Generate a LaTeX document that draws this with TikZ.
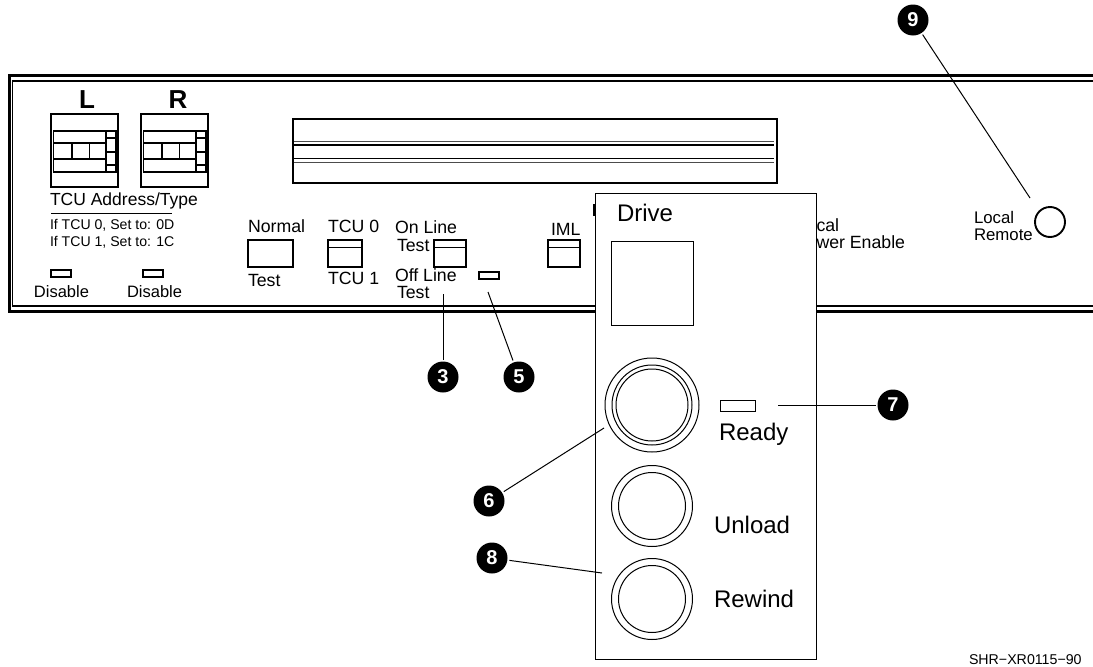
\documentclass[tikz,border=0pt]{standalone}
\usepackage{fontspec}
\setmainfont{Liberation Sans}
\newcommand{\fsz}[1]{\fontsize{#1}{#1}\selectfont}
\tikzset{
  lab/.style={anchor=base west,inner sep=0pt,outer sep=0pt,text=black},
  sa/.style={lab,font=\fsz{17.7}},
  sb/.style={lab,font=\fsz{14.1}},
  sc/.style={lab,font=\fsz{16.5}},
  sd/.style={lab,font=\fsz{24}},
  se/.style={lab,font=\fsz{16.8}},
  big/.style={anchor=base,inner sep=0pt,font=\fsz{26}\bfseries},
  sw/.style={draw=black,line width=1.6pt},
  btn/.style={draw=black,line width=1.4pt},
  thin/.style={draw=black,line width=0.9pt},
  callout/.style={circle,fill=black,text=white,inner sep=0pt,minimum size=31pt,outer sep=2pt,font=\fsz{20}\bfseries},
  lead/.style={draw=black,line width=1pt}
}
\begin{document}
\begin{tikzpicture}[x=1pt,y=-1pt]
\useasboundingbox (0,0) rectangle (1093,667);
% panel outline
\draw[line width=3pt] (1093,75) -- (9,75) -- (9,311) -- (1093,311);
\draw[line width=1.1pt] (1093,81) -- (12.5,81) -- (12.5,306) -- (1093,306);
% address switches
\foreach \x/\n in {51/L,141/R}{
  \draw[sw] (\x,114) rectangle ++(67,73);
  \draw[line width=1.3pt] (\x+2.5,131) rectangle (\x+65,172);
  \draw[line width=1.3pt] (\x+2.5,143) -- (\x+55,143) (\x+2.5,159) -- (\x+55,159);
  \draw[line width=1.3pt] (\x+55,131) -- (\x+55,172);
  \draw[line width=1.3pt] (\x+21,143) -- (\x+21,159) (\x+38.5,143) -- (\x+38.5,159);
  \draw[line width=1.1pt] (\x+55,138) -- (\x+65,138) (\x+55,152) -- (\x+65,152) (\x+55,165) -- (\x+65,165);
}
\node[big] (tL) at (87,108) {L};
\node[big] (tR) at (178,108) {R};
\node[sa,font=\fsz{17.5}] (addr) at (50,205) {TCU Address/Type};
\draw[line width=0.9pt] (51,213) -- (172,213);
\node[sb] (if0) at (50,229) {If TCU 0, Set to: 0D};
\node[sb] (if1) at (50,246) {If TCU 1, Set to: 1C};
\draw[btn] (51,270) rectangle (71,277);
\draw[btn] (143,270) rectangle (163,277);
\node[sc] (dis1) at (34,297) {Disable};
\node[sc] (dis2) at (127,297) {Disable};
% slot
\draw[line width=1.8pt] (293,119) rectangle (777,183);
\draw[line width=0.8pt,draw=black!70] (294,141.5) -- (774,141.5);
\draw[line width=1.4pt] (294,145) -- (774,145);
\draw[line width=1.4pt] (294,158.7) -- (774,158.7);
\draw[line width=0.8pt,draw=black!70] (294,162.3) -- (774,162.3);
% buttons
\node[sa] (norm) at (248,232) {Normal};
\draw[btn] (248,240) rectangle (293,267);
\node[sa] (test1) at (248,286) {Test};
\node[sa] (tcu0) at (328,232) {TCU 0};
\draw[btn] (328,240) rectangle (362,267);
\draw[thin] (328,247.5) -- (362,247.5);
\node[sa] (tcu1) at (328,284) {TCU 1};
\node[sa] (onl) at (395,233) {On Line};
\node[sa] (test2) at (397,251) {Test};
\draw[btn] (434,240) rectangle (466,267);
\draw[thin] (434,247.5) -- (466,247.5);
\node[sa] (off) at (395,281) {Off Line};
\node[sa] (test3) at (397,298) {Test};
\draw[btn] (479,272) rectangle (499,279);
\node[sa] (iml) at (551,235) {IML};
\draw[btn] (548,240) rectangle (580,267);
\draw[thin] (548,247.5) -- (580,247.5);
\draw[line width=1.2pt] (594,204) -- (594,216);
% drive panel
\draw[line width=1pt,fill=white] (595,193) rectangle (816,659);
\node[sd] (drive) at (617,221) {Drive};
\draw[line width=1pt] (611,241) rectangle (693,325);
\draw[line width=1pt] (652,405) circle (47);
\draw[line width=1pt] (652,405) circle (40);
\draw[line width=1pt] (652,405) circle (36);
\draw[line width=1pt] (720.5,400) rectangle (755,411);
\node[sd] (ready) at (719,440) {Ready};
\draw[line width=1pt] (652,506) circle (40.5);
\draw[line width=1pt] (652,506) circle (33.5);
\node[sd] (unload) at (714,533) {Unload};
\draw[line width=1pt] (652,599) circle (40.5);
\draw[line width=1pt] (652,599) circle (33.5);
\node[sd] (rewind) at (714,607) {Rewind};
% remainder of label hidden by drive panel
\node[sa] (cal) at (816.5,231) {cal};
\node[sa] (wer) at (816.5,248) {wer Enable};
% local/remote
\node[se] (loc) at (974,223) {Local};
\node[se] (rem) at (974,240) {Remote};
\draw[line width=1.9pt] (1050,222) circle (15);
% reference
\node[lab,font=\fsz{14.2}] (shr) at (969,664) {SHR−XR0115−90};
% callouts
\node[callout] (c3) at (443,377) {3};
\node[callout] (c5) at (519,377) {5};
\node[callout] (c6) at (489,501) {6};
\node[callout] (c7) at (893,405) {7};
\node[callout] (c8) at (492,558) {8};
\node[callout] (c9) at (913,20) {9};
\coordinate (e3) at (443,294);
\coordinate (e5) at (488,292);
\coordinate (e6) at (604,428);
\coordinate (e7) at (778,405);
\coordinate (e8) at (602,573);
\coordinate (e9) at (1030,198);
\foreach \c/\e in {c3/e3,c5/e5,c6/e6,c7/e7,c8/e8,c9/e9}{\draw[lead] (\c) -- (\e);}
\end{tikzpicture}
\end{document}
